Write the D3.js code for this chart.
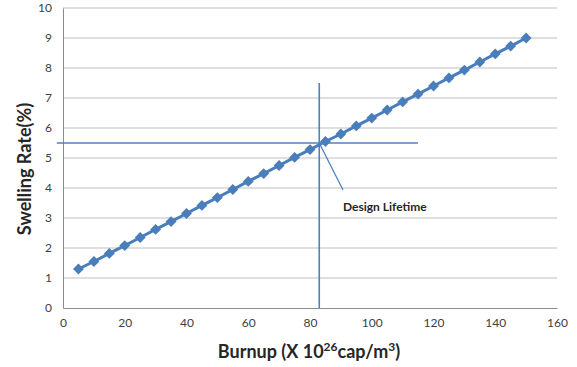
<!DOCTYPE html>
<html>
<head>
<meta charset="utf-8">
<script src="https://cdn.jsdelivr.net/npm/d3@7"></script>
<style>
  body { margin: 0; background: #fff; }
  .tick text { font-family: Lato, "Open Sans", sans-serif; font-size: 12px; fill: #404040; }
  .axisTitle { font-family: Lato, "Open Sans", sans-serif; font-size: 18px; font-weight: bold; fill: #262626; }
  .noteText { font-family: Lato, "Open Sans", sans-serif; font-size: 12px; font-weight: bold; fill: #262626; }
</style>
</head>
<body>
<div id="chart"></div>
<script>
// burnup (X 10^26 cap/m3)
const burnup = [5, 10, 15, 20, 25, 30, 35, 40, 45, 50, 55, 60, 65, 70, 75,
                80, 85, 90, 95, 100, 105, 110, 115, 120, 125, 130, 135, 140, 145, 150];
// swelling rate (%)
const swelling = [1.3, 1.55, 1.82, 2.08, 2.35, 2.62, 2.88, 3.15, 3.42, 3.68,
                  3.95, 4.22, 4.48, 4.75, 5.02, 5.28, 5.55, 5.8, 6.07, 6.33,
                  6.6, 6.87, 7.13, 7.4, 7.67, 7.93, 8.2, 8.47, 8.73, 9.0];
const xTicks = [0, 20, 40, 60, 80, 100, 120, 140, 160];
const yTicks = [0, 1, 2, 3, 4, 5, 6, 7, 8, 9, 10];
// design lifetime marker lines
const lifeX = 83, lifeXTop = 7.5;
const lifeY = 5.5, lifeYStart = -2, lifeYEnd = 115;
const noteLabel = "Design Lifetime";

const width = 577, height = 367;
const margin = {top: 8, right: 20, bottom: 59, left: 63};

const svg = d3.select("#chart").append("svg")
  .attr("width", width)
  .attr("height", height);

const x = d3.scaleLinear().domain([0, 160]).range([margin.left, width - margin.right]);
const y = d3.scaleLinear().domain([0, 10]).range([height - margin.bottom, margin.top]);

// gridlines
svg.append("g")
  .selectAll("line")
  .data(yTicks.filter(d => d > 0))
  .join("line")
  .attr("x1", x(0)).attr("x2", x(160))
  .attr("y1", d => y(d)).attr("y2", d => y(d))
  .attr("stroke", "#bfbfbf")
  .attr("stroke-width", 1);

// axes
const xAxis = svg.append("g")
  .attr("transform", "translate(0," + y(0) + ")")
  .call(d3.axisBottom(x).tickValues(xTicks).tickSize(0).tickPadding(10));
const yAxis = svg.append("g")
  .attr("transform", "translate(" + x(0) + ",0)")
  .call(d3.axisLeft(y).tickValues(yTicks).tickSize(0).tickPadding(11));
xAxis.select(".domain").attr("stroke", "#8c8c8c");
yAxis.select(".domain").attr("stroke", "#8c8c8c");

// reference lines
svg.append("line")
  .attr("x1", x(lifeX)).attr("x2", x(lifeX))
  .attr("y1", y(0)).attr("y2", y(lifeXTop))
  .attr("stroke", "#4f81bd").attr("stroke-width", 1.6);
svg.append("line")
  .attr("x1", x(lifeYStart)).attr("x2", x(lifeYEnd))
  .attr("y1", y(lifeY)).attr("y2", y(lifeY))
  .attr("stroke", "#4f81bd").attr("stroke-width", 1.3);

// series
const pts = burnup.map((b, i) => [b, swelling[i]]);
svg.append("path")
  .datum(pts)
  .attr("fill", "none")
  .attr("stroke", "#4a7ebb")
  .attr("stroke-width", 3)
  .attr("d", d3.line().x(d => x(d[0])).y(d => y(d[1])));

svg.append("g")
  .selectAll("path")
  .data(pts)
  .join("path")
  .attr("transform", d => "translate(" + x(d[0]) + "," + y(d[1]) + ")")
  .attr("d", d3.symbol(d3.symbolDiamond2, 75))
  .attr("fill", "#4a7ebb");

// annotation
svg.append("line")
  .attr("x1", x(lifeX)).attr("y1", y(lifeY))
  .attr("x2", 343).attr("y2", 190)
  .attr("stroke", "#4f81bd").attr("stroke-width", 1.3);
svg.append("text")
  .attr("class", "noteText")
  .attr("x", 343).attr("y", 211)
  .text(noteLabel);

// axis titles
const xt = svg.append("text")
  .attr("class", "axisTitle")
  .attr("x", 309).attr("y", 358)
  .attr("text-anchor", "middle");
xt.append("tspan").text("Burnup (X 10");
xt.append("tspan").attr("dy", -7).attr("font-size", 12).text("26");
xt.append("tspan").attr("dy", 7).text("cap/m");
xt.append("tspan").attr("dy", -7).attr("font-size", 12).text("3");
xt.append("tspan").attr("dy", 7).text(")");

svg.append("text")
  .attr("class", "axisTitle")
  .attr("transform", "translate(31,169) rotate(-90)")
  .attr("text-anchor", "middle")
  .text("Swelling Rate(%)");
</script>
</body>
</html>
